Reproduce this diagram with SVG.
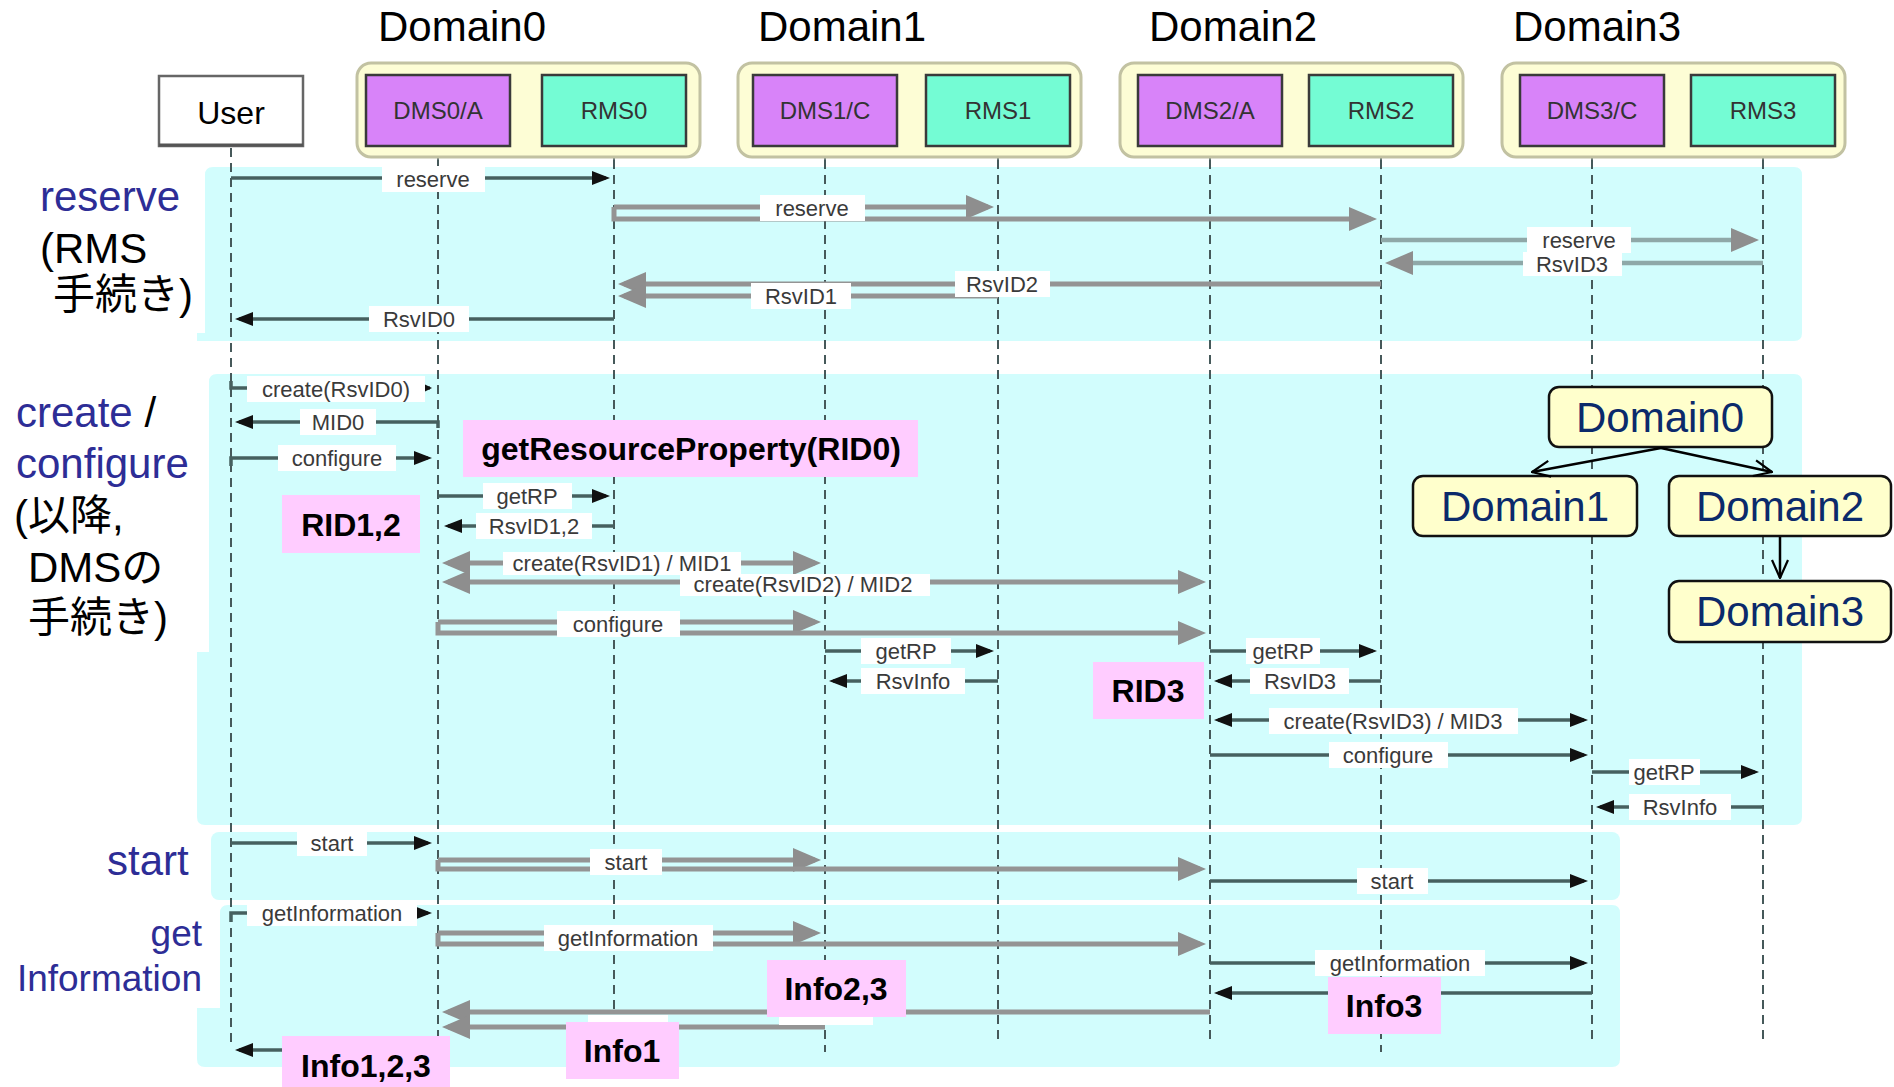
<svg xmlns="http://www.w3.org/2000/svg" width="1894" height="1087" viewBox="0 0 1894 1087">
<style>
.region{fill:#d2fdfd}
.dom{fill:#fdfdd5;stroke:#c2c2a2;stroke-width:3}
.dms{fill:#d883f9;stroke:#3a3a3a;stroke-width:2.5}
.rms{fill:#74fcd4;stroke:#3a3a3a;stroke-width:2.5}
.boxt{font-family:"Liberation Sans",Arial,sans-serif;font-size:24px;fill:#333;text-anchor:middle}
.title{font-family:"Liberation Sans",Arial,sans-serif;font-size:42px;fill:#000;text-anchor:middle}
.usert{font-family:"Liberation Sans",Arial,sans-serif;font-size:32px;fill:#000;text-anchor:middle}
.life{stroke:#46595a;stroke-width:2;stroke-dasharray:9 6;fill:none}
.lifes{stroke:#6a7a7a;stroke-width:2;fill:none}
.ln{stroke:#46605f;stroke-width:3.5;fill:none}
.gl{stroke:#949494;stroke-width:5;fill:none}
.gt{stroke:#8fa8a8;stroke-width:4.5;fill:none}
.lb rect{fill:#fff}
.lb text{font-family:"Liberation Sans",Arial,sans-serif;font-size:22px;fill:#3a3a3a;text-anchor:middle}
.pk rect{fill:#ffccff}
.pk text{font-family:"Liberation Sans",Arial,sans-serif;font-size:32px;font-weight:bold;fill:#000;text-anchor:middle}
.tree rect{fill:#ffffcc;stroke:#111;stroke-width:2.5}
.tree text{font-family:"Liberation Sans",Arial,sans-serif;font-size:42px;fill:#0b2a6b;text-anchor:middle}
.tedge{stroke:#000;stroke-width:2.5;fill:none}
.side{font-family:"Liberation Sans","Noto Sans CJK JP",sans-serif;font-size:42px;fill:#000}
.side37{font-family:"Liberation Sans",Arial,sans-serif;font-size:37px;fill:#2d2d96;text-anchor:end}
.blue{fill:#2d2d96}
</style>
<defs>
<marker id="ag" viewBox="0 0 28 24" markerWidth="28" markerHeight="24" refX="22" refY="12" orient="auto-start-reverse" markerUnits="userSpaceOnUse"><path d="M0,0 L28,12 L0,24 Z" fill="#8e8e8e"/></marker>
<marker id="ab" viewBox="0 0 18 14" markerWidth="18" markerHeight="14" refX="14" refY="7" orient="auto-start-reverse" markerUnits="userSpaceOnUse"><path d="M0,0 L18,7 L0,14 Z" fill="#111"/></marker>
<marker id="at" viewBox="0 0 8 8" markerWidth="8" markerHeight="8" refX="6" refY="4" orient="auto" markerUnits="userSpaceOnUse"><path d="M0,0 L8,4 L0,8 Z" fill="#111"/></marker>
<marker id="ao" viewBox="0 0 20 20" markerWidth="20" markerHeight="20" refX="19" refY="10" orient="auto" markerUnits="userSpaceOnUse"><path d="M1,2 L19,10 L1,18" fill="none" stroke="#000" stroke-width="2.2"/></marker>
</defs>
<rect width="1894" height="1087" fill="#fff"/>

<g id="regions">
<path class="region" d="M213,167 H1794 Q1802,167 1802,175 V333 Q1802,341 1794,341 H197 V333 H205 V175 Q205,167 213,167 Z"/>
<path class="region" d="M217,374 H1794 Q1802,374 1802,382 V817 Q1802,825 1794,825 H205 Q197,825 197,817 V652 H209 V382 Q209,374 217,374 Z"/>
<rect class="region" x="211" y="832" width="1409" height="68" rx="8"/>
<path class="region" d="M228,905 H1612 Q1620,905 1620,913 V1059 Q1620,1067 1612,1067 H205 Q197,1067 197,1059 V1008 H220 V913 Q220,905 228,905 Z"/>
</g>

<g id="side-labels">
<text class="side blue" x="40" y="211">reserve</text>
<text class="side" x="40" y="263">(RMS</text>
<text class="side" x="53" y="309">手続き)</text>
<text class="side" x="16" y="427"><tspan class="blue">create</tspan> /</text>
<text class="side blue" x="16" y="478">configure</text>
<text class="side" x="14" y="530">(以降,</text>
<text class="side" x="28" y="582">DMSの</text>
<text class="side" x="28" y="632">手続き)</text>
<text class="side blue" x="107" y="875">start</text>
<text class="side37" x="202" y="946">get</text>
<text class="side37" x="202" y="991">Information</text>
</g>

<g id="titles">
<text class="title" x="462" y="41">Domain0</text>
<text class="title" x="842" y="41">Domain1</text>
<text class="title" x="1233" y="41">Domain2</text>
<text class="title" x="1597" y="41">Domain3</text>
</g>

<g id="lifelines">
<path class="life" d="M231,148 V1045"/>
<path class="lifes" d="M438,147 V160 M614,147 V160 M825,147 V160 M998,147 V160 M1210,147 V160 M1381,147 V160 M1592,147 V160 M1763,147 V160"/>
<path class="life" d="M438,160 V1045 M614,160 V1045 M825,160 V1052 M998,160 V1045 M1210,160 V1045 M1381,160 V1052 M1592,160 V1045 M1763,160 V1045"/>
</g>

<g id="node-user">
<rect x="159" y="76" width="144" height="70" fill="#fff" stroke="#666" stroke-width="2.5"/>
<line x1="159" y1="145" x2="303" y2="145" stroke="#555" stroke-width="3"/>
<text class="usert" x="231" y="124">User</text>
</g>
<g id="node-domain0">
<rect class="dom" x="357" y="63" width="343" height="94" rx="14"/>
<rect class="dms" x="366" y="75" width="144" height="71"/>
<text class="boxt" x="438" y="119">DMS0/A</text>
<rect class="rms" x="542" y="75" width="144" height="71"/>
<text class="boxt" x="614" y="119">RMS0</text>
</g>
<g id="node-domain1">
<rect class="dom" x="738" y="63" width="343" height="94" rx="14"/>
<rect class="dms" x="753" y="75" width="144" height="71"/>
<text class="boxt" x="825" y="119">DMS1/C</text>
<rect class="rms" x="926" y="75" width="144" height="71"/>
<text class="boxt" x="998" y="119">RMS1</text>
</g>
<g id="node-domain2">
<rect class="dom" x="1120" y="63" width="343" height="94" rx="14"/>
<rect class="dms" x="1138" y="75" width="144" height="71"/>
<text class="boxt" x="1210" y="119">DMS2/A</text>
<rect class="rms" x="1309" y="75" width="144" height="71"/>
<text class="boxt" x="1381" y="119">RMS2</text>
</g>
<g id="node-domain3">
<rect class="dom" x="1502" y="63" width="343" height="94" rx="14"/>
<rect class="dms" x="1520" y="75" width="144" height="71"/>
<text class="boxt" x="1592" y="119">DMS3/C</text>
<rect class="rms" x="1691" y="75" width="144" height="71"/>
<text class="boxt" x="1763" y="119">RMS3</text>
</g>

<g id="connectors">
<path class="ln" d="M231,178 H606" marker-end="url(#ab)"/>
<path class="gl" d="M614,207 H988" marker-end="url(#ag)"/>
<path class="gl" d="M614,207 V219 H1371" marker-end="url(#ag)"/>
<path class="gt" d="M1381,240 H1753" marker-end="url(#ag)"/>
<path class="gt" d="M1763,263 H1391" marker-end="url(#ag)"/>
<path class="gl" d="M1381,284 H624" marker-end="url(#ag)"/>
<path class="gl" d="M998,296 H624" marker-end="url(#ag)"/>
<path class="ln" d="M614,319 H239" marker-end="url(#ab)"/>
<path class="ln" d="M231,381 V388 H430" marker-end="url(#at)"/>
<path class="ln" d="M438,428 V422 H239" marker-end="url(#ab)"/>
<path class="ln" d="M231,466 V458 H428" marker-end="url(#ab)"/>
<path class="ln" d="M438,496 H606" marker-end="url(#ab)"/>
<path class="ln" d="M614,526 H448" marker-end="url(#ab)"/>
<path class="gl" d="M448,563 H815" marker-start="url(#ag)" marker-end="url(#ag)"/>
<path class="gl" d="M448,582 H1200" marker-start="url(#ag)" marker-end="url(#ag)"/>
<path class="gl" d="M438,622 H815" marker-end="url(#ag)"/>
<path class="gl" d="M438,622 V633 H1200" marker-end="url(#ag)"/>
<path class="ln" d="M825,651 H990" marker-end="url(#ab)"/>
<path class="ln" d="M998,681 H833" marker-end="url(#ab)"/>
<path class="ln" d="M1210,651 H1373" marker-end="url(#ab)"/>
<path class="ln" d="M1381,681 H1218" marker-end="url(#ab)"/>
<path class="ln" d="M1218,720 H1584" marker-start="url(#ab)" marker-end="url(#ab)"/>
<path class="ln" d="M1210,755 H1584" marker-end="url(#ab)"/>
<path class="ln" d="M1592,772 H1755" marker-end="url(#ab)"/>
<path class="ln" d="M1763,807 H1600" marker-end="url(#ab)"/>
<path class="ln" d="M231,843 H428" marker-end="url(#ab)"/>
<path class="gl" d="M438,860 H815" marker-end="url(#ag)"/>
<path class="gl" d="M438,860 V869 H1200" marker-end="url(#ag)"/>
<path class="ln" d="M1210,881 H1584" marker-end="url(#ab)"/>
<path class="ln" d="M231,922 V913 H428" marker-end="url(#ab)"/>
<path class="gl" d="M438,933 H815" marker-end="url(#ag)"/>
<path class="gl" d="M438,933 V944 H1200" marker-end="url(#ag)"/>
<path class="ln" d="M1210,963 H1584" marker-end="url(#ab)"/>
<path class="ln" d="M1592,993 H1218" marker-end="url(#ab)"/>
<path class="gl" d="M1210,1012 H448" marker-end="url(#ag)"/>
<path class="gl" d="M825,1027 H448" marker-end="url(#ag)"/>
<path class="ln" d="M438,1050 H239" marker-end="url(#ab)"/>
</g>

<g id="message-labels" class="lb">
<rect x="382" y="166" width="103" height="26"/><text x="433" y="187">reserve</text>
<rect x="760" y="195" width="105" height="26"/><text x="812" y="216">reserve</text>
<rect x="1527" y="227" width="104" height="26"/><text x="1579" y="248">reserve</text>
<rect x="1523" y="252" width="99" height="24"/><text x="1572" y="272">RsvID3</text>
<rect x="955" y="271" width="95" height="26"/><text x="1002" y="292">RsvID2</text>
<rect x="751" y="283" width="100" height="26"/><text x="801" y="304">RsvID1</text>
<rect x="369" y="306" width="100" height="26"/><text x="419" y="327">RsvID0</text>
<rect x="247" y="376" width="178" height="26"/><text x="336" y="397">create(RsvID0)</text>
<rect x="300" y="409" width="76" height="26"/><text x="338" y="430">MID0</text>
<rect x="278" y="445" width="118" height="26"/><text x="337" y="466">configure</text>
<rect x="483" y="483" width="89" height="26"/><text x="527" y="504">getRP</text>
<rect x="476" y="513" width="116" height="26"/><text x="534" y="534">RsvID1,2</text>
<rect x="680" y="574" width="250" height="22"/><text x="803" y="592">create(RsvID2) / MID2</text>
<rect x="503" y="552" width="238" height="23"/><text x="622" y="571">create(RsvID1) / MID1</text>
<rect x="557" y="611" width="123" height="26"/><text x="618" y="632">configure</text>
<rect x="861" y="638" width="90" height="26"/><text x="906" y="659">getRP</text>
<rect x="861" y="668" width="104" height="26"/><text x="913" y="689">RsvInfo</text>
<rect x="1246" y="638" width="74" height="26"/><text x="1283" y="659">getRP</text>
<rect x="1250" y="668" width="99" height="26"/><text x="1300" y="689">RsvID3</text>
<rect x="1269" y="708" width="249" height="26"/><text x="1393" y="729">create(RsvID3) / MID3</text>
<rect x="1329" y="742" width="119" height="26"/><text x="1388" y="763">configure</text>
<rect x="1629" y="759" width="71" height="26"/><text x="1664" y="780">getRP</text>
<rect x="1629" y="794" width="102" height="26"/><text x="1680" y="815">RsvInfo</text>
<rect x="297" y="831" width="70" height="25"/><text x="332" y="851">start</text>
<rect x="590" y="849" width="72" height="26"/><text x="626" y="870">start</text>
<rect x="1357" y="868" width="71" height="26"/><text x="1392" y="889">start</text>
<rect x="247" y="902" width="170" height="24"/><text x="332" y="921">getInformation</text>
<rect x="544" y="925" width="169" height="26"/><text x="628" y="946">getInformation</text>
<rect x="1315" y="950" width="170" height="26"/><text x="1400" y="971">getInformation</text>
<rect x="779" y="1008" width="94" height="17"/>
<rect x="588" y="1015" width="80" height="12"/>
</g>

<g id="notes" class="pk">
<g id="note-getRP"><rect x="463" y="420" width="455" height="57"/><text x="691" y="460">getResourceProperty(RID0)</text></g>
<g id="note-rid12"><rect x="282" y="495" width="138" height="58"/><text x="351" y="536">RID1,2</text></g>
<g id="note-rid3"><rect x="1093" y="662" width="111" height="57"/><text x="1148" y="702">RID3</text></g>
<g id="note-info23"><rect x="767" y="960" width="139" height="57"/><text x="836" y="1000">Info2,3</text></g>
<g id="note-info3"><rect x="1328" y="977" width="113" height="57"/><text x="1384" y="1017">Info3</text></g>
<g id="note-info1"><rect x="566" y="1022" width="113" height="57"/><text x="622" y="1062">Info1</text></g>
<g id="note-info123"><rect x="282" y="1036" width="168" height="54"/><text x="366" y="1077">Info1,2,3</text></g>
</g>

<g id="tree" class="tree">
<g id="tree-domain0"><rect x="1549" y="387" width="223" height="60" rx="10"/><text x="1660" y="432">Domain0</text></g>
<g id="tree-domain1"><rect x="1413" y="476" width="224" height="60" rx="10"/><text x="1525" y="521">Domain1</text></g>
<g id="tree-domain2"><rect x="1669" y="476" width="222" height="60" rx="10"/><text x="1780" y="521">Domain2</text></g>
<g id="tree-domain3"><rect x="1669" y="581" width="222" height="61" rx="10"/><text x="1780" y="626">Domain3</text></g>
<g id="tree-edges">
<path class="tedge" d="M1661,448 L1532,472" marker-end="url(#ao)"/>
<path class="tedge" d="M1661,448 L1772,472" marker-end="url(#ao)"/>
<path class="tedge" d="M1780,537 L1780,578" stroke-width="2" marker-end="url(#ao)"/>
</g>
</g>
</svg>
